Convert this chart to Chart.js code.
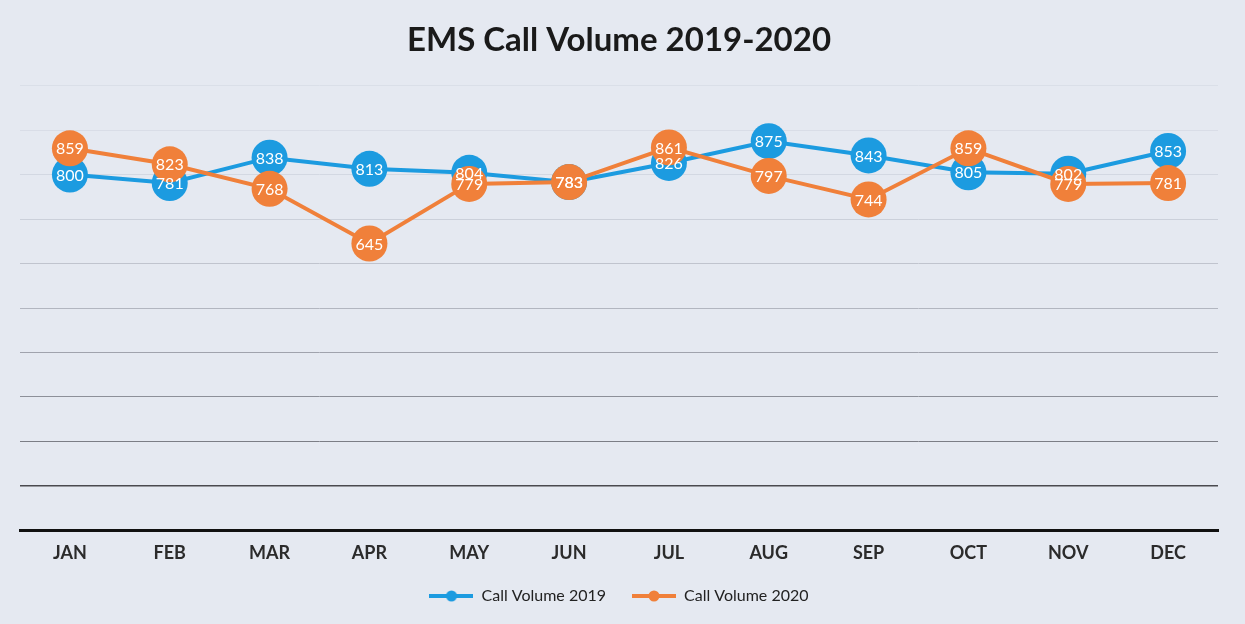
<!DOCTYPE html>
<html>
<head>
<meta charset="utf-8">
<title>EMS Call Volume 2019-2020</title>
<script src="https://cdn.jsdelivr.net/npm/chart.js@4.4.1/dist/chart.umd.min.js"></script>
<style>
  html, body { margin: 0; padding: 0; background: #e5e9f1; }
  #wrap { width: 1245px; height: 624px; }
</style>
</head>
<body>
<div id="wrap"><canvas id="callChart"></canvas></div>
<script>
const months = ['JAN', 'FEB', 'MAR', 'APR', 'MAY', 'JUN', 'JUL', 'AUG', 'SEP', 'OCT', 'NOV', 'DEC'];
const calls2019 = [800, 781, 838, 813, 804, 783, 826, 875, 843, 805, 802, 853];
const calls2020 = [859, 823, 768, 645, 779, 783, 861, 797, 744, 859, 779, 781];
const yTicks = [0, 100, 200, 300, 400, 500, 600, 700, 800, 900, 1000];

const blue = '#1c9be0';
const orange = '#f0803a';

// legend marker: short line with a dot in the middle
function legendMarker(color) {
  const c = document.createElement('canvas');
  c.width = 44;
  c.height = 14;
  const g = c.getContext('2d');
  g.strokeStyle = color;
  g.lineWidth = 4;
  g.beginPath();
  g.moveTo(0, 7);
  g.lineTo(44, 7);
  g.stroke();
  g.fillStyle = color;
  g.beginPath();
  g.arc(22, 7, 5.5, 0, Math.PI * 2);
  g.fill();
  return c;
}

// page colour behind everything
const pageBackground = {
  id: 'pageBackground',
  beforeDraw(chart) {
    const ctx = chart.ctx;
    ctx.save();
    ctx.fillStyle = '#e5e9f1';
    ctx.fillRect(0, 0, chart.width, chart.height);
    ctx.restore();
  }
};

// value printed in white inside each marker
const pointValues = {
  id: 'pointValues',
  afterDatasetsDraw(chart) {
    const ctx = chart.ctx;
    ctx.save();
    ctx.font = '16px Lato';
    ctx.fillStyle = '#ffffff';
    ctx.textAlign = 'center';
    ctx.textBaseline = 'middle';
    chart.data.datasets.forEach((ds, i) => {
      const meta = chart.getDatasetMeta(i);
      meta.data.forEach((pt, j) => {
        ctx.fillText(ds.data[j], pt.x, pt.y + 1);
      });
    });
    ctx.restore();
  }
};

// lower grid lines come out darker
const gridShades = ['#111111', '#4a4a4f', '#7c7e86', '#8d9099', '#a0a3ad', '#b2b6c0', '#c0c4ce', '#cbd0da', '#d3d8e2', '#d9dde7', '#dadfe8'];

const ctx = document.getElementById('callChart').getContext('2d');

const chart = new Chart(ctx, {
  type: 'line',
  data: {
    labels: months,
    datasets: [{
      label: 'Call Volume 2019',
      data: calls2019,
      borderColor: blue,
      backgroundColor: blue,
      pointBackgroundColor: blue,
      pointBorderColor: blue,
      borderWidth: 4,
      pointStyle: 'circle',
      pointRadius: 18,
      pointBorderWidth: 0,
      tension: 0,
      order: 1
    }, {
      label: 'Call Volume 2020',
      data: calls2020,
      borderColor: orange,
      backgroundColor: orange,
      pointBackgroundColor: orange,
      pointBorderColor: orange,
      borderWidth: 4,
      pointStyle: 'circle',
      pointRadius: 18,
      pointBorderWidth: 0,
      tension: 0,
      order: 0
    }]
  },
  options: {
    responsive: true,
    maintainAspectRatio: false,
    animation: false,
    events: [],
    layout: {
      padding: { left: 20, right: 27, top: 0, bottom: 10 }
    },
    plugins: {
      title: {
        display: true,
        text: 'EMS Call Volume 2019-2020',
        color: '#1a1a1a',
        font: { family: 'Lato', size: 33, weight: 'bold' },
        padding: { top: 21, bottom: 25 }
      },
      legend: {
        position: 'bottom',
        labels: {
          usePointStyle: true,
          pointStyleWidth: 44,
          padding: 26,
          color: '#222222',
          font: { family: 'Lato', size: 16 },
          generateLabels(chart) {
            return chart.data.datasets.map((ds, i) => ({
              text: ds.label,
              datasetIndex: i,
              pointStyle: legendMarker(ds.borderColor),
              fillStyle: ds.borderColor,
              strokeStyle: ds.borderColor,
              fontColor: '#222222',
              lineWidth: 0,
              hidden: false
            }));
          }
        }
      },
      tooltip: { enabled: false }
    },
    scales: {
      x: {
        offset: true,
        grid: { display: false, drawTicks: false },
        border: { display: true, color: '#111111', width: 3 },
        ticks: {
          color: '#2b2b2b',
          padding: 12,
          font: { family: 'Lato', size: 18, weight: 'bold' }
        },
        afterFit(scale) {
          scale.height -= 14;
        }
      },
      y: {
        min: yTicks[0],
        max: yTicks[yTicks.length - 1],
        afterBuildTicks(scale) {
          scale.ticks = yTicks.map(v => ({ value: v }));
        },
        ticks: { display: false },
        border: { display: false },
        grid: {
          drawTicks: false,
          lineWidth: c => (c.index === 1 ? 1.5 : 1),
          color: c => gridShades[c.index] || '#dadfe8'
        }
      }
    }
  },
  plugins: [pageBackground, pointValues]
});
</script>
</body>
</html>
